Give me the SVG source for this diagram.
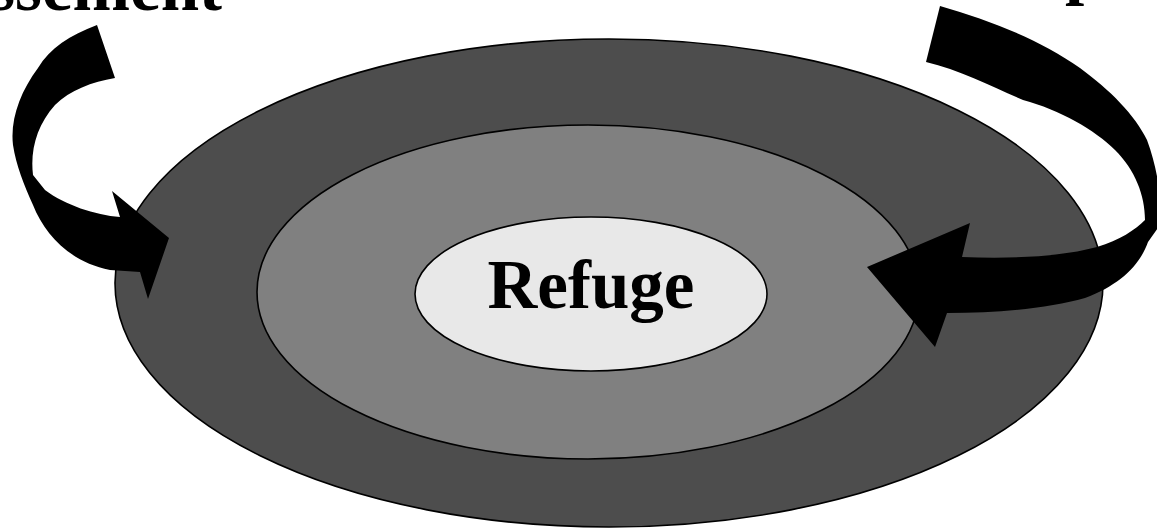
<svg xmlns="http://www.w3.org/2000/svg" width="1157" height="528" viewBox="0 0 1157 528">
  <style>
    .ring { stroke: #000; stroke-width: 1.6; }
    .lbl { font-family: "Liberation Serif", "Times New Roman", serif; font-weight: bold; font-size: 69px; fill: #000; }
    .arrow { fill: #000; stroke: none; }
  </style>
  <rect width="1157" height="528" fill="#fff"/>
  <g id="outer-ring">
    <ellipse class="ring" cx="609" cy="283" rx="494" ry="244" fill="#4d4d4d"/>
  </g>
  <g id="middle-ring">
    <ellipse class="ring" cx="588" cy="292" rx="331" ry="167" fill="#808080"/>
  </g>
  <g id="refuge">
    <ellipse class="ring" cx="591" cy="294" rx="176" ry="77" fill="#e8e8e8"/>
    <text class="lbl" x="591" y="308" text-anchor="middle">Refuge</text>
  </g>
  <g id="labels">
    <text class="lbl" x="222" y="10" text-anchor="end">ssement</text>
    <text class="lbl" x="1065" y="-9">p</text>
  </g>
  <g id="connectors">
    <path class="arrow" d="M97,25 C70,35 50,48 38,68 C20,92 10,120 13,145 C16,165 24,185 33,205 C45,235 70,262 110,270 L140,272 L148,299 L169,238 L112,191 L120,217 C95,215 65,205 45,190 L33,175 C30,150 37,125 55,105 C70,90 92,82 115,78 Z"/>
    <path class="arrow" d="M940,6 C990,20 1040,40 1080,68 C1110,90 1135,115 1147,140 C1158,170 1162,200 1160,225 L1148,242 C1140,265 1120,285 1085,298 C1050,308 1000,313 947,313 L935,347 L867,267 L970,223 L962,257 C1010,259 1060,257 1097,247 C1120,240 1135,230 1145,220 C1145,195 1135,170 1115,150 C1095,130 1060,110 1023,100 C995,88 960,70 926,62 Z"/>
  </g>
</svg>
